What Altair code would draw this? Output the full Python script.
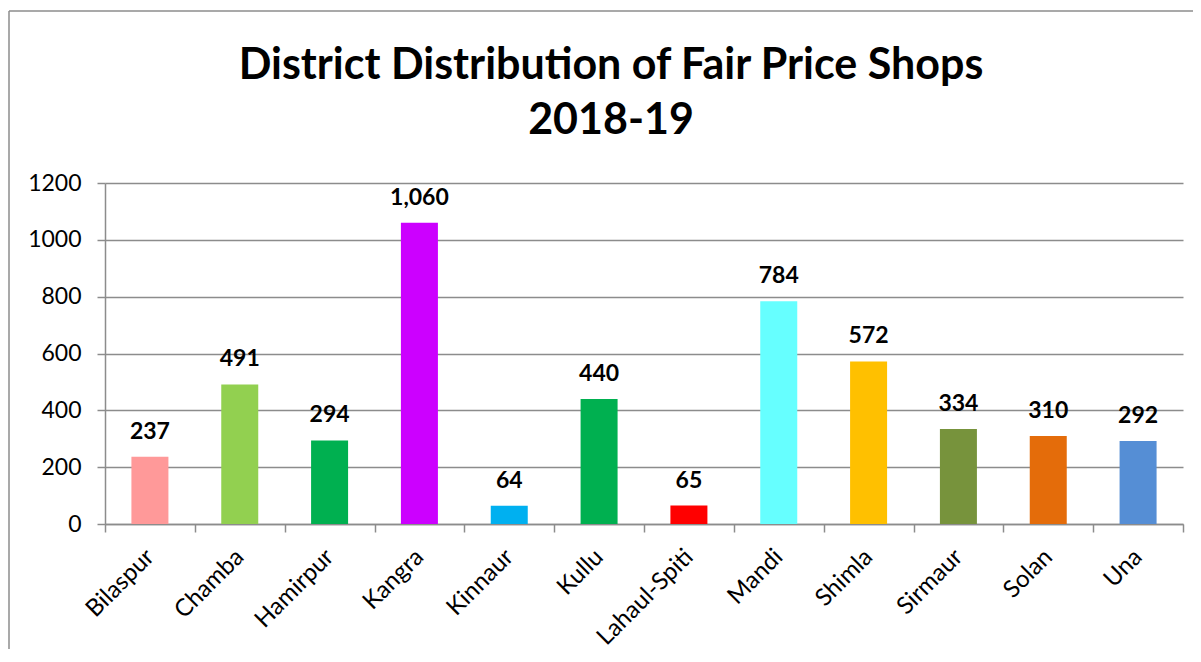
import altair as alt
import pandas as pd

districts = ["Bilaspur", "Chamba", "Hamirpur", "Kangra", "Kinnaur", "Kullu",
             "Lahaul-Spiti", "Mandi", "Shimla", "Sirmaur", "Solan", "Una"]
shops = [237, 491, 294, 1060, 64, 440, 65, 784, 572, 334, 310, 292]
colors = ["#FF9999", "#92D050", "#00B050", "#CC00FF", "#00B0F0", "#00B050",
          "#FF0000", "#66FFFF", "#FFC000", "#77933C", "#E46C0A", "#558ED5"]
y_ticks = [0, 200, 400, 600, 800, 1000, 1200]

df = pd.DataFrame({"District": districts, "Shops": shops, "Color": colors})

FONT = "Lato"
GRAY = "#8c8c8c"

x_enc = alt.X("District:N", sort=districts, title=None,
              scale=alt.Scale(paddingInner=0, paddingOuter=0),
              axis=alt.Axis(labelAngle=-45, labelAlign="right", labelBaseline="middle",
                            labelFont=FONT, labelFontSize=24, labelColor="black",
                            labelPadding=21, tickBand="extent", ticks=True,
                            tickSize=8, tickColor=GRAY, tickWidth=1.5,
                            domainColor=GRAY, domainWidth=1.5, grid=False))
y_enc = alt.Y("Shops:Q", title=None,
              scale=alt.Scale(domain=[0, 1200], nice=False),
              axis=alt.Axis(values=y_ticks, format="d", labelFont=FONT, labelFontSize=23,
                            labelColor="black", labelPadding=16, tickSize=8,
                            tickColor=GRAY, tickWidth=1.5, domainColor=GRAY,
                            domainWidth=1.5, grid=True, gridColor=GRAY, gridWidth=1.5))

bars = alt.Chart(df).mark_bar(size=37).encode(
    x=x_enc, y=y_enc,
    color=alt.Color("Color:N", scale=None, legend=None),
)

labels = alt.Chart(df).mark_text(font=FONT, fontSize=23, fontWeight="bold",
                                 color="black", baseline="alphabetic", dy=-18).encode(
    x=alt.X("District:N", sort=districts),
    y=alt.Y("Shops:Q"),
    text=alt.Text("Shops:Q", format=","),
)

frame_data = alt.Data(values=[{"f": 1}])
frame_left = alt.Chart(frame_data).mark_rule(
    color=GRAY, strokeWidth=1.5, clip=False).encode(
    x=alt.value(-96), y=alt.value(-172), y2=alt.value(466),
)
frame_top = alt.Chart(frame_data).mark_rule(
    color=GRAY, strokeWidth=1.5, clip=False).encode(
    x=alt.value(-96), x2=alt.value(1088), y=alt.value(-172),
)

chart = alt.layer(frame_left, frame_top, bars, labels).properties(
    width=1078, height=341,
    autosize=alt.AutoSizeParams(type="none"),
    padding={"left": 97, "top": 175, "right": 10, "bottom": 125},
    title=alt.TitleParams(
        text=["District Distribution of Fair Price Shops", "2018-19"],
        font=FONT, fontSize=43, fontWeight="bold", color="black",
        anchor="middle", frame="group", dx=-33, offset=-133, lineHeight=55,
    ),
).configure_view(strokeWidth=0)

chart.save("out.html", embed_options={"renderer": "svg", "actions": False})
